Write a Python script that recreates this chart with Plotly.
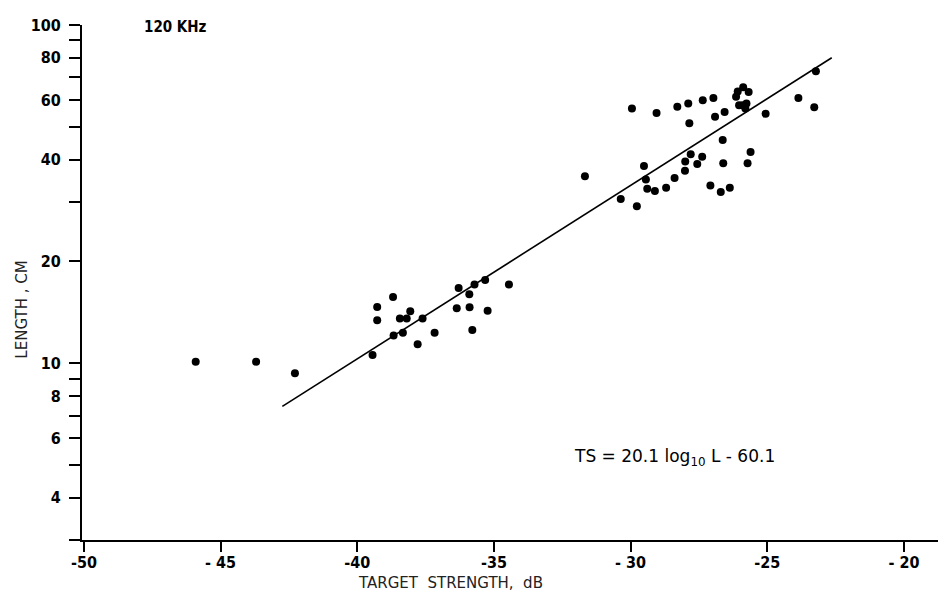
import plotly.graph_objects as go

# Data
target_strength = [
    -45.91, -43.70, -42.28,
    -39.27, -39.27, -38.69, -38.44, -38.19, -38.06, -37.61, -38.67, -38.33, -39.44,
    -37.79, -37.17, -36.36, -36.29, -35.90, -35.89, -35.79, -35.71, -35.32, -35.23, -34.45,
    -31.67, -30.36, -29.77, -29.95, -29.51, -29.44, -29.39, -29.11, -29.05, -28.70,
    -28.39, -28.29, -28.01, -28.00, -27.89, -27.85, -27.80, -27.56, -27.38, -27.36,
    -27.08, -26.97, -26.91, -26.70, -26.63, -26.61, -26.56, -26.37, -26.14, -26.08,
    -26.03, -25.88, -25.90, -25.76, -25.68, -25.80, -25.72, -25.61, -25.06, -23.86,
    -23.28, -23.22,
]
length_cm = [
    10.1, 10.1, 9.33,
    14.66, 13.4, 15.7, 13.55, 13.55, 14.25, 13.55, 12.08, 12.3, 10.58,
    11.37, 12.3, 14.54, 16.67, 16.0, 14.64, 12.54, 17.09, 17.63, 14.3, 17.1,
    35.7, 30.6, 29.1, 56.6, 38.3, 34.9, 32.8, 32.3, 54.9, 33.0,
    35.3, 57.3, 37.1, 39.5, 58.6, 51.2, 41.5, 38.8, 40.8, 59.9,
    33.5, 60.8, 53.5, 32.1, 45.7, 39.0, 55.3, 33.0, 61.3, 63.6,
    57.9, 65.5, 57.9, 58.6, 63.4, 56.6, 39.0, 42.1, 54.6, 60.8,
    57.1, 73.0,
]

# Regression line end points (as drawn)
line_ts = [-42.74, -22.64]
line_len = [7.45, 80.0]

x_tickvals = [-50, -45, -40, -35, -30, -25, -20]
x_ticktext = ["-50", "- 45", "-40", "-35", "- 30", "-25", "- 20"]
y_tickvals = [4, 6, 8, 10, 20, 40, 60, 80, 100]
y_ticktext = ["4", "6", "8", "10", "20", "40", "60", "80", "100"]
y_minor_ticks = [3, 5, 7, 9, 30, 50, 70, 90]

FONT = "DejaVu Sans Condensed, Liberation Sans Narrow, DejaVu Sans, sans-serif"

fig = go.Figure()
fig.add_trace(go.Scatter(
    x=line_ts, y=line_len, mode="lines",
    line=dict(color="black", width=1.6), showlegend=False, hoverinfo="skip"))
fig.add_trace(go.Scatter(
    x=target_strength, y=length_cm, mode="markers",
    marker=dict(color="black", size=8, line=dict(width=0)), showlegend=False))

fig.update_layout(
    width=946, height=598,
    margin=dict(l=74, r=8, t=12, b=66),
    paper_bgcolor="white", plot_bgcolor="white",
    font=dict(family=FONT, size=16, color="black"),
    xaxis=dict(
        range=[-50.07, -18.46], showgrid=False, zeroline=False,
        showline=True, linecolor="black", linewidth=2,
        ticks="outside", ticklen=10, tickwidth=2, tickcolor="black",
        tickmode="array", tickvals=x_tickvals, ticktext=x_ticktext,
        ticklabelstandoff=-3,
        tickfont=dict(family=FONT, size=16, color="black", weight="bold"),
    ),
    yaxis=dict(
        type="log", range=[0.4771, 2.0], showgrid=False, zeroline=False,
        showline=True, linecolor="black", linewidth=2,
        ticks="outside", ticklen=11, tickwidth=2, tickcolor="black",
        tickmode="array", tickvals=y_tickvals, ticktext=y_ticktext,
        ticklabelstandoff=5,
        tickfont=dict(family=FONT, size=16, color="black", weight="bold"),
        minor=dict(tickmode="array", tickvals=y_minor_ticks, ticks="outside",
                   ticklen=11, tickwidth=2, tickcolor="black", showgrid=False),
    ),
    annotations=[
        dict(text="LENGTH , CM", xref="paper", yref="paper", x=-0.069, y=0.448,
             textangle=-90, showarrow=False, xanchor="center", yanchor="middle",
             font=dict(family="DejaVu Sans, sans-serif", size=15, color="#222")),
        dict(text="TARGET  STRENGTH,  dB", xref="paper", yref="paper", x=0.426, y=-0.083,
             showarrow=False, xanchor="center", yanchor="middle",
             font=dict(family="DejaVu Sans, sans-serif", size=15, color="#222")),
        dict(text="120 KHz", xref="paper", yref="paper", x=0.108, y=0.996,
             showarrow=False, xanchor="center", yanchor="middle",
             font=dict(family=FONT, size=15, color="black", weight="bold")),
        dict(text="TS = 20.1 log<sub>10</sub> L - 60.1", xref="paper", yref="paper",
             x=0.686, y=0.16, showarrow=False, xanchor="center", yanchor="middle",
             font=dict(family="DejaVu Sans, sans-serif", size=17, color="black")),
    ],
)

fig.write_html("out.html")
